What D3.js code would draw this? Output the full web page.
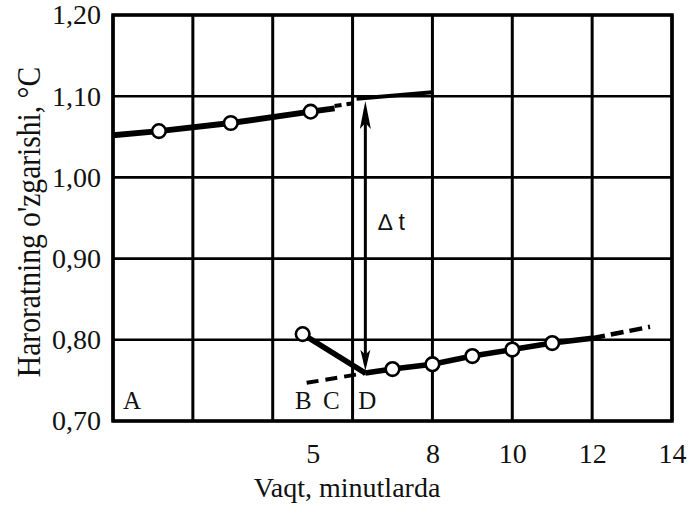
<!DOCTYPE html>
<html>
<head>
<meta charset="utf-8">
<script src="https://cdn.jsdelivr.net/npm/d3@7/dist/d3.min.js"></script>
<style>
  html, body { margin: 0; padding: 0; background: #fff; }
  svg { display: block; }
  .serif { font-family: "Liberation Serif", "Times New Roman", serif; fill: #111; }
  .sans { font-family: "Liberation Sans", Arial, sans-serif; fill: #111; }
</style>
</head>
<body>
<svg id="chart" width="693" height="506"></svg>
<script>
// Time axis (minutes) and temperature change axis (°C)
const xDomain = [0, 14];
const yDomain = [0.70, 1.20];
const gridTimes = [0, 2, 4, 6, 8, 10, 12, 14];
const xTickLabels = [5, 8, 10, 12, 14];
const yTickValues = [0.70, 0.80, 0.90, 1.00, 1.10, 1.20];

// Initial period: measured readings and the trend line through them
const upperTimes = [1.15, 2.95, 4.95];
const upperValues = [1.057, 1.067, 1.081];
const upperLineTimes = [0, 1.15, 2.95, 4.95, 5.55];
const upperLineValues = [1.052, 1.057, 1.067, 1.081, 1.085];
const upperDashTimes = [5.55, 6.1];
const upperDashValues = [1.088, 1.092];
const upperTailTimes = [6.1, 8];
const upperTailValues = [1.097, 1.105];

// Main and final periods
const dropTimes = [4.75, 6.32];
const dropValues = [0.807, 0.759];
const lowerTimes = [4.75, 7, 8, 9, 10, 11];
const lowerValues = [0.807, 0.764, 0.770, 0.780, 0.788, 0.796];
const lowerLineTimes = [6.32, 7, 8, 9, 10, 11, 12];
const lowerLineValues = [0.759, 0.764, 0.770, 0.780, 0.788, 0.796, 0.802];
const lowerLeadTimes = [4.85, 6.32];
const lowerLeadValues = [0.747, 0.759];
const lowerTailTimes = [12, 13.45];
const lowerTailValues = [0.802, 0.816];

// Δt span between the two extrapolated lines
const deltaTime = 6.32;
const deltaFrom = 0.762;
const deltaTo = 1.094;

// Period markers along the bottom of the plot
const markerNames = ["A", "B", "C", "D"];
const markerTimes = [0.25, 4.56, 5.26, 6.14];

const svg = d3.select("#chart");
const margin = { left: 113, top: 15, right: 21, bottom: 85 };
const W = 693, H = 506;

const x = d3.scaleLinear().domain(xDomain).range([margin.left, W - margin.right]);
const y = d3.scaleLinear().domain(yDomain).range([H - margin.bottom, margin.top]);

const zip = (ts, vs) => ts.map((t, i) => [t, vs[i]]);
const line = d3.line().x(d => x(d[0])).y(d => y(d[1]));

// Grid
const grid = svg.append("g").attr("stroke", "#000");
grid.selectAll("line.v").data(gridTimes).join("line")
  .attr("x1", d => x(d)).attr("x2", d => x(d))
  .attr("y1", y(yDomain[0])).attr("y2", y(yDomain[1]))
  .attr("stroke-width", 3);
grid.selectAll("line.h").data(yTickValues).join("line")
  .attr("x1", x(xDomain[0])).attr("x2", x(xDomain[1]))
  .attr("y1", d => y(d)).attr("y2", d => y(d))
  .attr("stroke-width", 2.6);
svg.append("rect")
  .attr("x", x(xDomain[0])).attr("y", y(yDomain[1]))
  .attr("width", x(xDomain[1]) - x(xDomain[0]))
  .attr("height", y(yDomain[0]) - y(yDomain[1]))
  .attr("fill", "none").attr("stroke", "#000").attr("stroke-width", 3.5);

// Axes (labels only; the frame is drawn above)
const yAxis = d3.axisLeft(y).tickValues(yTickValues)
  .tickFormat(d => d3.format(".2f")(d).replace(".", ","))
  .tickSize(0).tickPadding(12);
const gy = svg.append("g").attr("transform", `translate(${x(xDomain[0])},0)`).call(yAxis);
gy.select(".domain").remove();
gy.selectAll("text").attr("class", "serif").style("font-size", "28px").attr("fill", "#111");

const xAxis = d3.axisBottom(x).tickValues(xTickLabels).tickFormat(d3.format("d"))
  .tickSize(0).tickPadding(22);
const gx = svg.append("g").attr("transform", `translate(0,${y(yDomain[0])})`).call(xAxis);
gx.select(".domain").remove();
gx.selectAll("text").attr("class", "serif").style("font-size", "28px").attr("fill", "#111");

// Axis titles
svg.append("text").attr("class", "serif")
  .attr("x", 347).attr("y", 497)
  .attr("text-anchor", "middle").style("font-size", "28px")
  .text("Vaqt, minutlarda");
svg.append("text").attr("class", "serif")
  .attr("transform", "translate(40,222) rotate(-90) scale(0.87,1)")
  .attr("text-anchor", "middle").style("font-size", "34px")
  .text("Haroratning o'zgarishi, °C");

// Data lines
const ink = svg.append("g").attr("fill", "none").attr("stroke", "#000").attr("stroke-linecap", "butt");
ink.append("path").attr("d", line(zip(upperLineTimes, upperLineValues))).attr("stroke-width", 6);
ink.append("path").attr("d", line(zip(upperDashTimes, upperDashValues))).attr("stroke-width", 4)
  .attr("stroke-dasharray", "7,5");
ink.append("path").attr("d", line(zip(upperTailTimes, upperTailValues))).attr("stroke-width", 4);
ink.append("path").attr("d", line(zip(dropTimes, dropValues))).attr("stroke-width", 5.5);
ink.append("path").attr("d", line(zip(lowerLineTimes, lowerLineValues))).attr("stroke-width", 5.5);
ink.append("path").attr("d", line(zip(lowerLeadTimes, lowerLeadValues))).attr("stroke-width", 4)
  .attr("stroke-dasharray", "12,7");
ink.append("path").attr("d", line(zip(lowerTailTimes, lowerTailValues))).attr("stroke-width", 4.5)
  .attr("stroke-dasharray", "13,6");

// Δt double arrow
const ax = x(deltaTime), yTop = y(deltaTo), yBot = y(deltaFrom);
svg.append("line").attr("x1", ax).attr("x2", ax).attr("y1", yTop + 8).attr("y2", yBot - 6)
  .attr("stroke", "#000").attr("stroke-width", 3);
svg.append("path")
  .attr("d", `M${ax},${yTop} L${ax + 5.5},${yTop + 28} L${ax},${yTop + 22} L${ax - 5.5},${yTop + 28} Z`)
  .attr("fill", "#000");
svg.append("path")
  .attr("d", `M${ax},${yBot} L${ax + 5},${yBot - 21} L${ax},${yBot - 16} L${ax - 5},${yBot - 21} Z`)
  .attr("fill", "#000");
svg.append("text").attr("class", "sans")
  .attr("x", x(6.64)).attr("y", y(0.935))
  .style("font-size", "23px")
  .text("\u2206 t");

// Readings
const pts = zip(upperTimes, upperValues).concat(zip(lowerTimes, lowerValues));
svg.append("g").selectAll("circle").data(pts).join("circle")
  .attr("cx", d => x(d[0])).attr("cy", d => y(d[1])).attr("r", 6.8)
  .attr("fill", "#fff").attr("stroke", "#000").attr("stroke-width", 2.6);

// Period markers
svg.append("g").selectAll("text").data(markerNames).join("text")
  .attr("class", "serif")
  .attr("x", (d, i) => x(markerTimes[i])).attr("y", y(0.715))
  .style("font-size", "25px")
  .text(d => d);
</script>
</body>
</html>
